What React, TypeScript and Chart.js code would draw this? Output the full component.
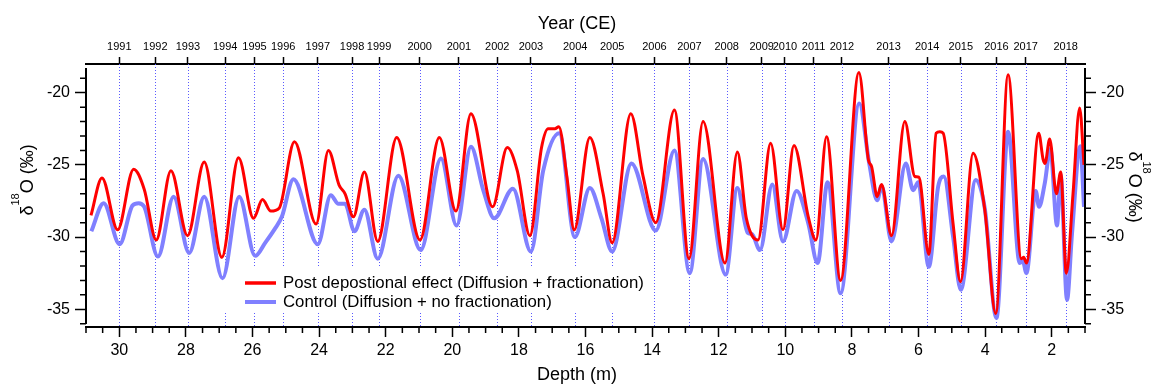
import React, { useEffect, useRef } from "react";
import { Chart, registerables } from "chart.js";

Chart.register(...registerables);

// ---- data ----
const redDepth = [30.85, 30.52, 30.05, 29.57, 29.25, 28.89, 28.45, 27.95, 27.45, 26.92, 26.42, 25.97, 25.7, 25.45, 25.2, 24.74, 24.09, 23.72, 23.4, 23.22, 22.97, 22.64, 22.24, 21.67, 20.97, 20.39, 19.89, 19.44, 18.79, 18.35, 18.05, 17.67, 17.32, 17.12, 16.92, 16.8, 16.56, 16.34, 15.87, 15.47, 15.2, 14.64, 14.27, 13.89, 13.33, 12.89, 12.47, 11.81, 11.44, 11.17, 10.82, 10.44, 10.07, 9.74, 9.31, 9.08, 8.76, 8.34, 7.79, 7.5, 7.41, 7.24, 7.11, 6.81, 6.41, 6.11, 5.99, 5.69, 5.47, 5.36, 5.26, 4.96, 4.74, 4.36, 4.01, 3.68, 3.31, 2.91, 2.84, 2.76, 2.39, 2.26, 2.2, 2.06, 1.86, 1.73, 1.56, 1.36, 1.16, 1.03];
const redValues = [-28.5, -25.9, -29.5, -25.3, -26.7, -30.2, -25.4, -29.9, -24.8, -31.4, -24.5, -28.7, -27.4, -28.2, -28.0, -23.4, -29.1, -24.0, -26.4, -27.0, -28.6, -25.5, -30.3, -23.1, -30.2, -23.1, -28.2, -21.45, -27.9, -23.8, -25.4, -29.9, -23.8, -22.5, -22.5, -22.35, -25.8, -29.5, -23.1, -27.0, -30.4, -21.45, -25.8, -29.0, -21.2, -31.5, -22.0, -31.8, -24.1, -28.7, -30.2, -23.5, -29.5, -23.65, -28.6, -30.2, -23.05, -33.0, -18.6, -24.7, -25.1, -27.2, -26.35, -29.9, -22.0, -25.8, -25.85, -31.2, -22.8, -22.7, -22.8, -29.1, -33.1, -24.2, -28.1, -35.3, -18.75, -31.5, -31.4, -31.8, -22.8, -24.6, -24.9, -23.2, -27.0, -25.5, -32.5, -27.0, -21.05, -25.0];

const blueDepth = [30.84, 30.47, 29.99, 29.6, 29.42, 29.25, 28.84, 28.37, 27.9, 27.45, 26.9, 26.4, 25.92, 25.62, 25.32, 25.12, 24.77, 24.04, 23.65, 23.42, 23.22, 22.94, 22.64, 22.24, 21.62, 20.95, 20.34, 19.87, 19.44, 19.07, 18.74, 18.18, 17.64, 17.27, 16.79, 16.32, 15.87, 15.52, 15.2, 14.62, 13.89, 13.33, 12.87, 12.47, 11.79, 11.44, 11.13, 11.0, 10.76, 10.39, 10.07, 9.66, 9.31, 9.03, 8.73, 8.34, 7.78, 7.48, 7.24, 7.11, 6.81, 6.38, 6.16, 6.01, 5.69, 5.41, 5.24, 4.96, 4.73, 4.28, 4.01, 3.66, 3.31, 2.96, 2.87, 2.76, 2.48, 2.38, 2.21, 2.04, 1.84, 1.73, 1.54, 1.39, 1.14, 1.03];
const blueValues = [-29.6, -27.65, -30.5, -27.8, -27.65, -27.9, -31.35, -27.2, -31.1, -27.2, -32.85, -27.2, -31.3, -30.4, -29.4, -28.6, -26.0, -30.5, -27.1, -27.7, -27.7, -29.6, -28.1, -31.5, -25.75, -30.9, -24.55, -29.2, -23.75, -26.75, -28.7, -26.65, -31.0, -25.4, -22.8, -30.0, -26.6, -28.7, -31.0, -24.9, -29.55, -24.0, -32.5, -24.6, -32.6, -26.6, -29.7, -29.8, -30.9, -26.35, -30.3, -26.8, -29.05, -31.8, -26.2, -33.9, -20.75, -24.9, -27.45, -26.45, -30.3, -24.9, -26.75, -26.2, -32.05, -26.5, -25.8, -30.0, -33.65, -26.05, -28.0, -35.6, -22.7, -31.8, -31.6, -32.5, -26.8, -27.9, -26.3, -23.9, -29.2, -25.7, -34.35, -29.75, -23.7, -27.9];

const yearLabels = ["1991", "1992", "1993", "1994", "1995", "1996", "1997", "1998", "1999", "2000", "2001", "2002", "2003", "2004", "2005", "2006", "2007", "2008", "2009", "2010", "2011", "2012", "2013", "2014", "2015", "2016", "2017", "2018"];
const yearDepths = [30.0, 28.92, 27.94, 26.82, 25.94, 25.08, 24.04, 23.01, 22.2, 20.98, 19.8, 18.65, 17.64, 16.31, 15.2, 13.93, 12.88, 11.76, 10.71, 10.01, 9.15, 8.3, 6.9, 5.74, 4.73, 3.66, 2.78, 1.58];

const depthTicks = [30, 28, 26, 24, 22, 20, 18, 16, 14, 12, 10, 8, 6, 4, 2];
const valueTicks = [-35, -30, -25, -20];

const seriesNames = [
  "Post depostional effect (Diffusion + fractionation)",
  "Control (Diffusion + no fractionation)",
];

const FONT = "Arial, 'Liberation Sans', sans-serif";
const RED = "#ff0000";
const BLUE = "#8080ff";

function drawDeltaTitle(ctx: CanvasRenderingContext2D, cx: number, cy: number, angle: number) {
  const parts = [
    { t: "\u03b4", s: 18, r: 0 },
    { t: "18", s: 11, r: -14 },
    { t: "O (\u2030)", s: 18, r: 0 },
  ];
  ctx.save();
  ctx.translate(cx, cy);
  ctx.rotate(angle);
  ctx.fillStyle = "#000";
  ctx.textBaseline = "alphabetic";
  ctx.textAlign = "left";
  let total = 0;
  const widths = parts.map((p) => {
    ctx.font = `${p.s}px ${FONT}`;
    const w = ctx.measureText(p.t).width;
    total += w;
    return w;
  });
  let x = -total / 2;
  parts.forEach((p, i) => {
    ctx.font = `${p.s}px ${FONT}`;
    ctx.fillText(p.t, x, p.r);
    x += widths[i];
  });
  ctx.restore();
}

const decorPlugin = {
  id: "decor",
  beforeDatasetsDraw(chart: any) {
    const { ctx, chartArea, scales } = chart;
    const { top, bottom } = chartArea;
    const xs = scales.x;
    ctx.save();
    // dotted year lines
    ctx.strokeStyle = "#5a5aff";
    ctx.lineWidth = 1;
    ctx.setLineDash([1, 2]);
    yearDepths.forEach((d) => {
      const px = Math.round(xs.getPixelForValue(d)) + 0.5;
      ctx.beginPath();
      ctx.moveTo(px, top);
      ctx.lineTo(px, bottom);
      ctx.stroke();
    });
    ctx.setLineDash([]);
    // legend box
    ctx.fillStyle = "#ffffff";
    ctx.fillRect(205, 267, 447, 45);
    const colors = [RED, BLUE];
    const widthsL = [3.5, 4];
    const ys = [283, 302];
    seriesNames.forEach((name, i) => {
      ctx.strokeStyle = colors[i];
      ctx.lineWidth = widthsL[i];
      ctx.beginPath();
      ctx.moveTo(245, ys[i]);
      ctx.lineTo(276, ys[i]);
      ctx.stroke();
      ctx.fillStyle = "#000";
      ctx.font = `16.8px ${FONT}`;
      ctx.textBaseline = "middle";
      ctx.textAlign = "left";
      ctx.fillText(name, 283, ys[i]);
    });
    ctx.restore();
  },
  afterDraw(chart: any) {
    const { ctx, chartArea, scales } = chart;
    const { left, right, top, bottom } = chartArea;
    const xs = scales.x;
    const ys = scales.y;
    ctx.save();
    ctx.strokeStyle = "#000";
    // vertical axis lines
    ctx.lineWidth = 2;
    ctx.beginPath();
    ctx.moveTo(left, top + 4);
    ctx.lineTo(left, bottom - 3);
    ctx.moveTo(right, top + 4);
    ctx.lineTo(right, bottom - 3);
    ctx.stroke();
    // minor ticks
    ctx.lineWidth = 1.5;
    ctx.beginPath();
    for (let d = 1; d <= 31.001; d += 0.5) {
      if (Math.abs(d - Math.round(d)) < 0.01 && Math.round(d) % 2 === 0) continue;
      const px = xs.getPixelForValue(d);
      ctx.moveTo(px, bottom);
      ctx.lineTo(px, bottom + 6);
    }
    for (let v = -36; v <= -19; v += 1) {
      if (v % 5 === 0) continue;
      const py = ys.getPixelForValue(v);
      ctx.moveTo(left, py);
      ctx.lineTo(left - 6, py);
      ctx.moveTo(right, py);
      ctx.lineTo(right + 6, py);
    }
    ctx.stroke();
    // titles
    ctx.fillStyle = "#000";
    ctx.font = `18px ${FONT}`;
    ctx.textAlign = "center";
    ctx.textBaseline = "middle";
    ctx.fillText("Depth (m)", 577, 375);
    ctx.fillText("Year (CE)", 577, 24);
    drawDeltaTitle(ctx, 33, 180, -Math.PI / 2);
    drawDeltaTitle(ctx, 1129, 187, Math.PI / 2);
    ctx.restore();
  },
};

export default function App() {
  const canvasRef = useRef<HTMLCanvasElement | null>(null);

  useEffect(() => {
    const canvas = canvasRef.current;
    if (!canvas) return;
    const redData = redDepth.map((d, i) => ({ x: d, y: redValues[i] }));
    const blueData = blueDepth.map((d, i) => ({ x: d, y: blueValues[i] }));

    const tickFont = { family: FONT, size: 16 };
    const axisGrid = (len: number) => ({
      display: true,
      drawOnChartArea: false,
      drawTicks: true,
      tickLength: len,
      tickWidth: 1.5,
      tickColor: "#000",
      color: "#000",
    });

    const chart = new Chart(canvas, {
      type: "line",
      data: {
        datasets: [
          {
            label: seriesNames[0],
            data: redData,
            borderColor: RED,
            backgroundColor: RED,
            borderWidth: 3,
            pointRadius: 0,
            fill: false,
            cubicInterpolationMode: "monotone",
            xAxisID: "x",
            yAxisID: "y",
          },
          {
            label: seriesNames[1],
            data: blueData,
            borderColor: BLUE,
            backgroundColor: BLUE,
            borderWidth: 4,
            pointRadius: 0,
            fill: false,
            cubicInterpolationMode: "monotone",
            xAxisID: "x",
            yAxisID: "y",
          },
        ],
      },
      options: {
        animation: false,
        responsive: true,
        maintainAspectRatio: false,
        layout: { padding: 0 },
        plugins: {
          legend: { display: false },
          tooltip: { enabled: false },
          title: { display: false },
        },
        scales: {
          x: {
            type: "linear",
            position: "bottom",
            min: 1,
            max: 31,
            reverse: true,
            afterBuildTicks: (s: any) => {
              s.ticks = depthTicks.map((v) => ({ value: v }));
            },
            afterFit: (s: any) => {
              s.height = 58;
            },
            ticks: {
              autoSkip: false,
              maxRotation: 0,
              minRotation: 0,
              color: "#000",
              font: tickFont,
              padding: 4,
              callback: (v: any) => String(v),
            },
            grid: axisGrid(10),
            border: { display: true, color: "#000", width: 2 },
          },
          x2: {
            type: "linear",
            position: "top",
            min: 1,
            max: 31,
            reverse: true,
            afterBuildTicks: (s: any) => {
              s.ticks = yearDepths.map((v) => ({ value: v }));
            },
            afterFit: (s: any) => {
              s.height = 64;
            },
            ticks: {
              autoSkip: false,
              maxRotation: 0,
              minRotation: 0,
              color: "#000",
              font: { family: FONT, size: 11 },
              padding: 3,
              callback: (_v: any, i: number) => yearLabels[i],
            },
            grid: axisGrid(7),
            border: { display: true, color: "#000", width: 2 },
          },
          y: {
            type: "linear",
            position: "left",
            min: -36.23,
            max: -18.01,
            afterBuildTicks: (s: any) => {
              s.ticks = valueTicks.map((v) => ({ value: v }));
            },
            afterFit: (s: any) => {
              s.width = 86;
            },
            ticks: {
              color: "#000",
              font: tickFont,
              padding: 5,
              callback: (v: any) => String(v),
            },
            grid: axisGrid(11),
            border: { display: false },
          },
          y2: {
            type: "linear",
            position: "right",
            min: -36.23,
            max: -18.01,
            afterBuildTicks: (s: any) => {
              s.ticks = valueTicks.map((v) => ({ value: v }));
            },
            afterFit: (s: any) => {
              s.width = 68;
            },
            ticks: {
              color: "#000",
              font: tickFont,
              padding: 5,
              callback: (v: any) => String(v),
            },
            grid: axisGrid(11),
            border: { display: false },
          },
        },
      },
      plugins: [decorPlugin],
    } as any);

    return () => {
      chart.destroy();
    };
  }, []);

  return (
    <div
      style={{
        position: "fixed",
        left: 0,
        top: 0,
        width: 1153,
        height: 385,
        background: "#fff",
      }}
    >
      <canvas ref={canvasRef} />
    </div>
  );
}
